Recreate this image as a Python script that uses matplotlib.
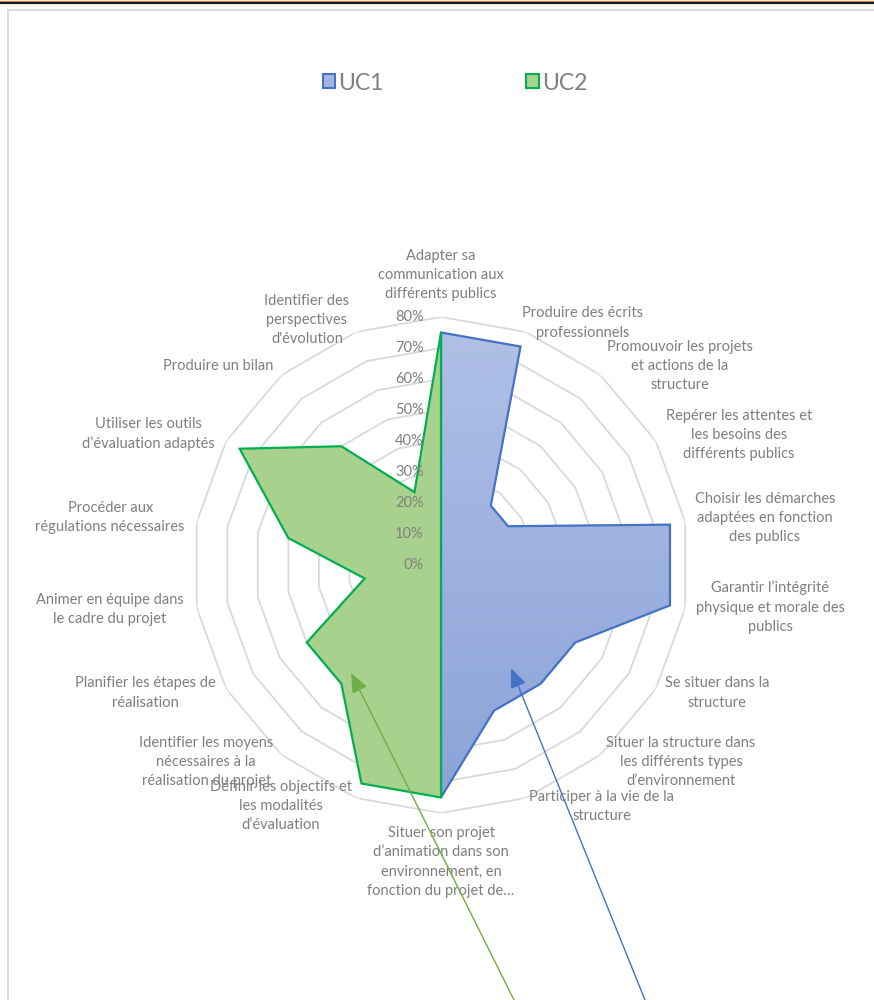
import numpy as np
import matplotlib
matplotlib.use('Agg')
import matplotlib.pyplot as plt
from matplotlib.patches import Patch, Rectangle
from matplotlib.lines import Line2D
from matplotlib.colors import LinearSegmentedColormap

plt.rcParams['font.family'] = ['Lato', 'DejaVu Sans']

# ---- donnees ----
categories = [
    "Adapter sa\ncommunication aux\ndifférents publics",
    "Produire des écrits\nprofessionnels",
    "Promouvoir les projets\net actions de la\nstructure",
    "Repérer les attentes et\nles besoins des\ndifférents publics",
    "Choisir les démarches\nadaptées en fonction\ndes publics",
    "Garantir l’intégrité\nphysique et morale des\npublics",
    "Se situer dans la\nstructure",
    "Situer la structure dans\nles différents types\nd’environnement",
    "Participer à la vie de la\nstructure",
    "Situer son projet\nd’animation dans son\nenvironnement, en\nfonction du projet de…",
    "Définir les objectifs et\nles modalités\nd’évaluation",
    "Identifier les moyens\nnécessaires à la\nréalisation du projet",
    "Planifier les étapes de\nréalisation",
    "Animer en équipe dans\nle cadre du projet",
    "Procéder aux\nrégulations nécessaires",
    "Utiliser les outils\nd’évaluation adaptés",
    "Produire un bilan",
    "Identifier des\nperspectives\nd'évolution",
]
uc1 = [75, 75, 25, 25, 75, 75, 50, 50, 50, 75, 0, 0, 0, 0, 0, 0, 0, 0]
uc2 = [75, 0, 0, 0, 0, 0, 0, 0, 0, 75, 75, 50, 50, 25, 50, 75, 50, 25]
series_names = ['UC1', 'UC2']
ticks = list(range(0, 90, 10))

# position des etiquettes (angle en degres, rayon en %)
label_pos = [(0, 93.5), (30.4, 90.5), (50.2, 100.3), (66.4, 104.9), (81.7, 105.6),
             (97.3, 107), (114.9, 98.1), (129.4, 100.2), (146.3, 93.5), (180, 95.8),
             (213.6, 93.3), (230, 98.9), (246.6, 104), (262.4, 107.7), (278.1, 107.8),
             (294.1, 103.5), (311.7, 96.4), (331.3, 90.1)]

W, H = 874, 1000
cx, cy, R = 441, 565, 248
txt_col = '#7f7f7f'
grid_col = '#d9d9d9'

fig = plt.figure(figsize=(W / 100, H / 100), dpi=100)
ax = fig.add_axes([(cx - R) / W, (H - cy - R) / H, 2 * R / W, 2 * R / H], projection='polar')
ax.set_theta_zero_location('N')
ax.set_theta_direction(-1)
ax.patch.set_alpha(0)

n = len(categories)
ang = np.deg2rad(np.arange(n) * 360 / n)
ang_c = np.append(ang, ang[0])

# grille polygonale
for lvl in ticks[1:]:
    ax.plot(ang_c, [lvl] * (n + 1), color=grid_col, lw=1.3, zorder=1)

# UC1 avec degrade
blue_poly = ax.fill(ang, uc1, facecolor='none', edgecolor='#4472c4', lw=1.6, zorder=3)[0]
th = np.linspace(0, 2 * np.pi, 361)
rr = np.linspace(0, 80, 81)
TH, RR = np.meshgrid(th, rr)
cmap = LinearSegmentedColormap.from_list('bl', ['#8aa2d8', '#b0c0e6'])
mesh = ax.pcolormesh(TH, RR, RR * np.cos(TH), cmap=cmap, vmin=-80, vmax=80,
                     shading='gouraud', zorder=2)
mesh.set_clip_path(blue_poly)

# UC2
ax.fill(ang, uc2, facecolor='#a9d18e', edgecolor='#00b050', lw=1.6, zorder=4)

ax.set_xlim(0, 2 * np.pi)
ax.set_ylim(0, 80)
ax.grid(False)
ax.set_xticks([])
ax.set_yticks([])
ax.spines['polar'].set_visible(False)

# etiquettes des pourcentages
for v in ticks:
    ax.annotate(f'{v}%', xy=(0, v), xytext=(-12.5, 0), textcoords='offset points',
                ha='right', va='center', fontsize=10.5, color=txt_col, zorder=5)

# etiquettes des categories
for lab, (a, r) in zip(categories, label_pos):
    ax.text(np.deg2rad(a), r, lab, ha='center', va='center', multialignment='center',
            fontsize=10.5, color=txt_col, linespacing=1.47)

# legende
handles = [Patch(facecolor='#a5b5e0', edgecolor='#4472c4', lw=1.5),
           Patch(facecolor='#a9d18e', edgecolor='#00b050', lw=1.5)]
fig.legend(handles, series_names, loc='center', bbox_to_anchor=(455 / W, 1 - 83 / H),
           ncol=2, frameon=False, fontsize=16.5, handlelength=0.55, handleheight=0.55,
           handletextpad=0.15, columnspacing=6.2, labelcolor='#7f7f7f')

# fleches
ax.annotate('', xy=(np.deg2rad(219.8), 45.3), xytext=(514 / W, 0), textcoords='figure fraction',
            arrowprops=dict(arrowstyle='-|>,head_length=1.2,head_width=0.5', color='#70ad47',
                            lw=1, shrinkA=0, shrinkB=0), annotation_clip=False, zorder=6)
ax.annotate('', xy=(np.deg2rad(145.8), 40.2), xytext=(645 / W, 0), textcoords='figure fraction',
            arrowprops=dict(arrowstyle='-|>,head_length=1.2,head_width=0.5', color='#4472c4',
                            lw=1, shrinkA=0, shrinkB=0), annotation_clip=False, zorder=6)

# cadre
fig.patches.append(Rectangle((8 / W, -0.05), 1.0, 1 - 10 / H + 0.05, transform=fig.transFigure,
                             fill=False, ec=grid_col, lw=1.4))
fig.add_artist(Line2D([0, 1], [1 - 0.5 / H] * 2, color='#ed7d31', lw=0.8))
fig.add_artist(Line2D([0, 1], [1 - 2.5 / H] * 2, color='#1a1a1a', lw=1.5))

plt.savefig('out.png', dpi=100)
